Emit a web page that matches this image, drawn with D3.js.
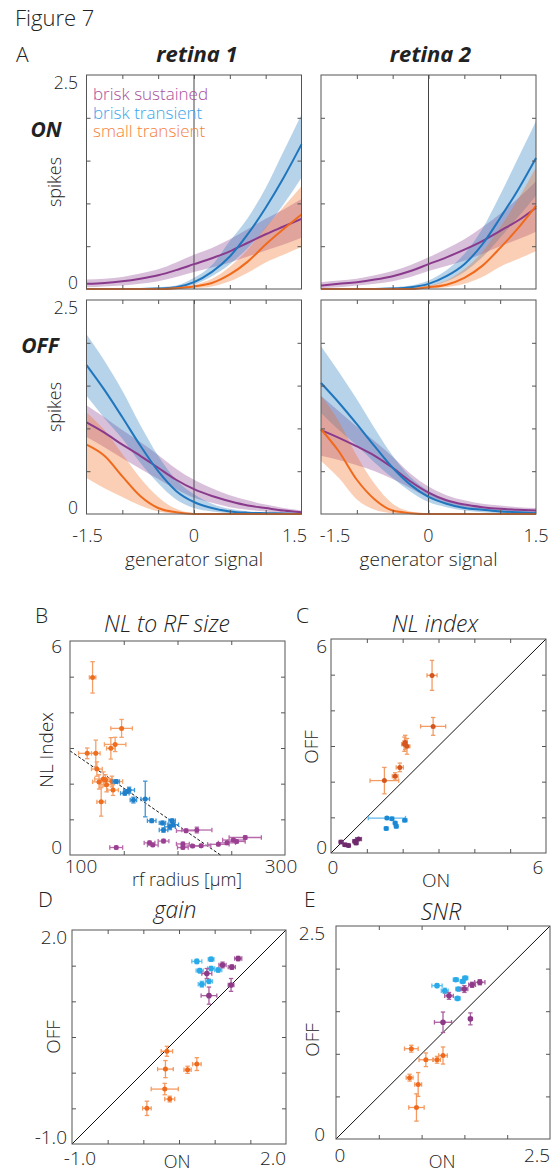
<!DOCTYPE html>
<html>
<head>
<meta charset="utf-8">
<script src="https://cdn.jsdelivr.net/npm/d3@7"></script>
<style>
  body { margin: 0; background: #fff; }
  svg { font-family: "Open Sans", "Liberation Sans", sans-serif; font-weight: 300; }
  text { fill: #222; }
</style>
</head>
<body>
<div id="root"></div>
<script>
// ---- panel A: fitted nonlinearities (lo / mid / hi band) ----
var genX = [-1.5, -1.25, -1, -0.75, -0.5, -0.25, 0, 0.25, 0.5, 0.75, 1, 1.25, 1.5];

var r1OnBS = { mid: [0.06,0.07,0.09,0.12,0.16,0.22,0.29,0.36,0.44,0.54,0.64,0.73,0.82],
               lo:  [0.02,0.03,0.04,0.06,0.09,0.14,0.2,0.25,0.31,0.38,0.45,0.52,0.6],
               hi:  [0.11,0.12,0.14,0.18,0.23,0.31,0.4,0.48,0.58,0.7,0.82,0.93,1.05] };
var r1OnBT = { mid: [0,0,0,0,0.005,0.02,0.08,0.2,0.38,0.64,0.95,1.3,1.69],
               lo:  [0,0,0,0,0,0.01,0.05,0.15,0.29,0.48,0.71,0.99,1.3],
               hi:  [0,0,0,0.01,0.02,0.04,0.13,0.28,0.56,0.83,1.18,1.61,2.04] };
var r1OnST = { mid: [0,0,0,0,0,0.01,0.03,0.07,0.17,0.32,0.52,0.7,0.87],
               lo:  [0,0,0,0,0,0,0.01,0.03,0.09,0.19,0.31,0.4,0.49],
               hi:  [0,0,0,0,0.01,0.02,0.05,0.12,0.26,0.46,0.72,0.96,1.2] };

var r2OnBS = { mid: [0.04,0.06,0.08,0.11,0.15,0.21,0.29,0.37,0.46,0.56,0.68,0.8,0.95],
               lo:  [0.01,0.02,0.04,0.06,0.09,0.14,0.21,0.27,0.33,0.41,0.5,0.58,0.67],
               hi:  [0.08,0.1,0.12,0.16,0.21,0.28,0.37,0.47,0.58,0.72,0.88,1.06,1.26] };
var r2OnBT = { mid: [0,0,0,0,0.005,0.02,0.06,0.15,0.29,0.52,0.83,1.16,1.53],
               lo:  [0,0,0,0,0,0.01,0.03,0.09,0.2,0.37,0.6,0.84,1.09],
               hi:  [0,0,0,0.01,0.02,0.04,0.1,0.22,0.41,0.7,1.1,1.53,1.96] };
var r2OnST = { mid: [0,0,0,0,0,0,0.02,0.05,0.13,0.27,0.48,0.71,0.97],
               lo:  [0,0,0,0,0,0,0.005,0.02,0.06,0.14,0.26,0.35,0.44],
               hi:  [0,0,0,0,0,0.01,0.04,0.1,0.23,0.43,0.72,1.05,1.42] };

var r1OffBS = { mid: [1.07,0.95,0.81,0.68,0.54,0.4,0.29,0.21,0.15,0.1,0.07,0.04,0.02],
                lo:  [0.9,0.78,0.65,0.53,0.41,0.29,0.19,0.13,0.08,0.05,0.03,0.01,0],
                hi:  [1.27,1.13,0.98,0.84,0.69,0.53,0.4,0.3,0.22,0.16,0.11,0.07,0.04] };
var r1OffBT = { mid: [1.74,1.45,1.13,0.8,0.5,0.27,0.14,0.07,0.03,0.015,0.01,0.005,0],
                lo:  [1.38,1.12,0.88,0.6,0.36,0.17,0.07,0.03,0.01,0.005,0,0,0],
                hi:  [2.1,1.79,1.44,1.04,0.68,0.4,0.23,0.12,0.06,0.03,0.02,0.01,0.01] };
var r1OffST = { mid: [0.81,0.68,0.44,0.21,0.07,0.02,0,0,0,0,0,0,0],
                lo:  [0.42,0.3,0.2,0.1,0.03,0.005,0,0,0,0,0,0,0],
                hi:  [1.19,0.98,0.7,0.42,0.2,0.06,0.01,0,0,0,0,0,0] };

var r2OffBS = { mid: [0.98,0.89,0.79,0.68,0.54,0.38,0.25,0.16,0.11,0.08,0.06,0.05,0.04],
                lo:  [0.68,0.63,0.57,0.5,0.41,0.3,0.19,0.12,0.08,0.05,0.03,0.02,0.01],
                hi:  [1.38,1.2,1.02,0.85,0.67,0.47,0.32,0.22,0.16,0.12,0.1,0.08,0.07] };
var r2OffBT = { mid: [1.53,1.3,1.05,0.79,0.54,0.34,0.2,0.12,0.07,0.05,0.03,0.02,0.01],
                lo:  [1.18,0.98,0.8,0.6,0.42,0.26,0.14,0.08,0.04,0.02,0.01,0,0],
                hi:  [1.96,1.66,1.34,1,0.68,0.43,0.27,0.17,0.1,0.07,0.05,0.04,0.03] };
var r2OffST = { mid: [0.99,0.73,0.4,0.17,0.04,0.01,0,0,0,0,0,0,0],
                lo:  [0.62,0.42,0.17,0.05,0.01,0,0,0,0,0,0,0,0],
                hi:  [1.38,1.08,0.68,0.35,0.12,0.03,0.01,0,0,0,0,0,0] };

var legendNames = ["brisk sustained", "brisk transient", "small transient"];

// ---- scatter panels: [x, y, xerr, yerr] ----
var rfST = [[121,4.98,3,0.44],[148,3.55,10,0.25],[142,3.1,10,0.2],[138,2.99,4,0.3],
            [124,2.85,4,0.37],[116,2.85,8,0.15],[125,2.41,5,0.2],[131,2.13,8,0.2],
            [139,2.06,10,0.15],[134,1.97,6,0.2],[140,1.82,5,0.15],[129,1.49,4,0.4],
            [127,2.05,6,0.2],[133,2.1,5,0.15]];
var rfBT = [[143,2.06,3,0.05],[151,1.73,4,0.05],[155,1.82,5,0.08],[159,1.54,3,0.08],
            [170,1.57,4,0.5],[176,0.96,4,0.05],[186,0.9,3,0.05],[187,0.7,4,0.06],
            [193,0.79,5,0.08],[195,0.96,3,0.05],[196,0.85,5,0.05],[153,1.78,3,0.05]];
var rfBS = [[143,0.21,6,0.04],[174,0.34,5,0.05],[177,0.28,5,0.04],[187,0.39,5,0.05],
            [205,0.31,6,0.05],[205,0.21,5,0.04],[214,0.25,8,0.04],[222,0.26,9,0.04],
            [218,0.7,14,0.08],[208,0.68,9,0.05],[238,0.3,10,0.04],[246,0.34,8,0.05],
            [252,0.42,10,0.05],[263,0.49,15,0.05],[255,0.38,8,0.04]];
var rfFitX = [100, 240];
var rfFitY = [2.92, 0];

var nlST = [[2.82,4.98,0.14,0.42],[2.85,3.55,0.35,0.25],[2.07,3.1,0.06,0.2],[2.12,2.99,0.08,0.22],
            [2.05,3.05,0.08,0.2],[1.92,2.4,0.1,0.12],[1.79,2.15,0.08,0.1],[1.49,2.03,0.4,0.37]];
var nlBT = [[1.56,0.98,0.52,0.04],[1.7,0.96,0.05,0.04],[1.54,0.69,0.05,0.04],[1.79,0.84,0.05,0.04],
            [1.82,0.75,0.05,0.05],[2.06,0.92,0.06,0.04]];
var nlBS = [[0.28,0.31,0.05,0.03],[0.39,0.23,0.05,0.03],[0.49,0.21,0.04,0.03],[0.67,0.33,0.06,0.04],
            [0.77,0.39,0.08,0.04],[0.7,0.28,0.05,0.04]];

var gainBT = [[0.75,1.56,0.07,0.03],[0.95,1.59,0.04,0.03],[0.79,1.43,0.05,0.03],[0.95,1.46,0.05,0.03],
              [1.05,1.44,0.05,0.03],[0.82,1.24,0.05,0.04],[0.92,1.28,0.05,0.03]];
var gainBS = [[1.33,1.6,0.05,0.03],[1.11,1.51,0.05,0.04],[1.24,1.48,0.05,0.03],[0.89,1.39,0.07,0.07],
              [1.23,1.23,0.04,0.09],[0.92,1.08,0.11,0.12]];
var gainST = [[0.33,0.3,0.08,0.07],[0.31,0.05,0.11,0.12],[0.75,0.12,0.06,0.09],[0.62,0.04,0.05,0.05],
              [0.3,-0.23,0.19,0.08],[0.37,-0.37,0.07,0.04],[0.05,-0.5,0.06,0.1]];

var snrBT = [[1.18,1.8,0.06,0.02],[1.27,1.74,0.04,0.03],[1.4,1.87,0.03,0.02],[1.48,1.85,0.03,0.02],
             [1.51,1.89,0.03,0.02],[1.43,1.76,0.03,0.02],[1.42,1.65,0.03,0.02]];
var snrBS = [[1.68,1.84,0.06,0.03],[1.59,1.81,0.04,0.03],[1.5,1.76,0.04,0.04],[1.32,1.68,0.05,0.04],
             [1.25,1.37,0.1,0.12],[1.57,1.41,0.02,0.07]];
var snrST = [[0.88,1.06,0.08,0.04],[1.05,0.93,0.08,0.08],[1.18,0.93,0.04,0.04],[1.25,0.98,0.05,0.1],
             [0.86,0.72,0.04,0.04],[0.96,0.64,0.04,0.14],[0.94,0.37,0.09,0.16]];

var colBS = "#8a3a8c", colBT = "#1f76bd", colST = "#f06a1c";

var svg = d3.select("#root").append("svg")
    .attr("width", 555)
    .attr("height", 1174);

function txt(x, y, s, size, anchor, extra) {
    var t = svg.append("text")
        .attr("x", x).attr("y", y)
        .attr("font-size", size)
        .attr("text-anchor", anchor || "start")
        .text(s);
    if (extra) extra(t);
    return t;
}

// a box with inward ticks on all four sides
function panel(left, top, w, h, xDom, yDom, xTicks, yTicks) {
    var x = d3.scaleLinear().domain(xDom).range([left, left + w]);
    var y = d3.scaleLinear().domain(yDom).range([top + h, top]);
    var g = svg.append("g");
    var axes = [
        [d3.axisBottom(x).tickValues(xTicks), "translate(0," + (top + h) + ")"],
        [d3.axisTop(x).tickValues(xTicks), "translate(0," + top + ")"],
        [d3.axisLeft(y).tickValues(yTicks), "translate(" + left + ",0)"],
        [d3.axisRight(y).tickValues(yTicks), "translate(" + (left + w) + ",0)"]
    ];
    var frame = svg.append("g");
    axes.forEach(function (a) {
        var ax = frame.append("g")
            .attr("transform", a[1])
            .call(a[0].tickSize(-4).tickFormat(""));
        ax.select(".domain").remove();
        ax.selectAll("line").attr("stroke", "#555");
    });
    frame.append("rect")
        .attr("x", left).attr("y", top)
        .attr("width", w).attr("height", h)
        .attr("fill", "none")
        .attr("stroke", "#555")
        .attr("stroke-width", 1);
    return { x: x, y: y, g: g, frame: frame };
}

// ---- panel A ----
function curves(left, top, bs, bt, st) {
    var p = panel(left, top, 215, 214, [-1.5, 1.5], [0, 2.5],
        [-1, -0.5, 0, 0.5, 1], [0.5, 1, 1.5, 2]);
    var sets = [[bs, colBS], [bt, colBT], [st, colST]];
    sets.forEach(function (s) {
        var area = d3.area()
            .x(function (d, i) { return p.x(genX[i]); })
            .y0(function (d, i) { return p.y(s[0].lo[i]); })
            .y1(function (d, i) { return p.y(s[0].hi[i]); })
            .curve(d3.curveMonotoneX);
        p.g.append("path")
            .attr("d", area(genX))
            .attr("fill", s[1])
            .attr("fill-opacity", 0.32);
    });
    p.g.append("line")
        .attr("x1", p.x(0)).attr("x2", p.x(0))
        .attr("y1", p.y(0)).attr("y2", p.y(2.5))
        .attr("stroke", "#444").attr("stroke-width", 1);
    sets.forEach(function (s) {
        var line = d3.line()
            .x(function (d, i) { return p.x(genX[i]); })
            .y(function (d, i) { return p.y(s[0].mid[i]); })
            .curve(d3.curveMonotoneX);
        p.g.append("path")
            .attr("d", line(genX))
            .attr("fill", "none")
            .attr("stroke", s[1])
            .attr("stroke-width", 2);
    });
    return p;
}

var pOn1 = curves(86.5, 75, r1OnBS, r1OnBT, r1OnST);
var pOn2 = curves(321, 75, r2OnBS, r2OnBT, r2OnST);
var pOff1 = curves(86.5, 300, r1OffBS, r1OffBT, r1OffST);
var pOff2 = curves(321, 300, r2OffBS, r2OffBT, r2OffST);

var legendCols = ["#a8509c", "#3aa6ec", "#f5823a"];
legendNames.forEach(function (n, i) {
    txt(93, 100 + i * 18.7, n, 17).style("fill", legendCols[i]);
});

txt(15, 26, "Figure 7", 22);
txt(16, 62, "A", 21);
function bi(t) { t.attr("font-weight", 700).attr("font-style", "italic"); }
txt(pOn1.x(0) + 3, 62, "retina 1", 22, "middle", bi);
txt(pOn2.x(0) + 2, 62, "retina 2", 22, "middle", bi);
txt(46, 137, "ON", 21, "middle", bi);
txt(40, 353, "OFF", 21, "middle", bi);

[pOn1, pOff1].forEach(function (p) {
    txt(78, p.y(2.5) + 14, "2.5", 17.5, "end");
    txt(78, p.y(0), "0", 17.5, "end");
    txt(61, (p.y(0) + p.y(2.5)) / 2, "spikes", 18, "middle", function (t) {
        t.attr("transform", "rotate(-90," + 61 + "," + (p.y(0) + p.y(2.5)) / 2 + ")");
    });
});
[[pOff1, 1, -7], [pOff2, 14, 0]].forEach(function (a) {
    var p = a[0];
    txt(p.x(-1.5) + a[1], 542, "-1.5", 18, "middle");
    txt(p.x(0), 542, "0", 18, "middle");
    txt(p.x(1.5) + a[2], 542, "1.5", 18, "middle");
    txt(p.x(0), 566, "generator signal", 19, "middle");
});

// ---- scatter helper ----
function scatter(p, data, col, errCol, r) {
    var g = p.g.append("g");
    var cap = 2.2;
    data.forEach(function (d) {
        var cx = p.x(d[0]), cy = p.y(d[1]);
        var x0 = p.x(d[0] - d[2]), x1 = p.x(d[0] + d[2]);
        var y0 = p.y(d[1] - d[3]), y1 = p.y(d[1] + d[3]);
        var segs = [[x0, cy, x1, cy], [cx, y0, cx, y1],
                    [x0, cy - cap, x0, cy + cap], [x1, cy - cap, x1, cy + cap],
                    [cx - cap, y0, cx + cap, y0], [cx - cap, y1, cx + cap, y1]];
        g.selectAll(null).data(segs).enter().append("line")
            .attr("x1", function (s) { return s[0]; })
            .attr("y1", function (s) { return s[1]; })
            .attr("x2", function (s) { return s[2]; })
            .attr("y2", function (s) { return s[3]; })
            .attr("stroke", errCol)
            .attr("stroke-width", 1.3);
    });
    g.selectAll("circle").data(data).enter().append("circle")
        .attr("cx", function (d) { return p.x(d[0]); })
        .attr("cy", function (d) { return p.y(d[1]); })
        .attr("r", r || 2.5)
        .attr("fill", col);
}

function it(t) { t.attr("font-style", "italic"); }
function rotLabel(x, y, s) {
    txt(x, y, s, 19, "middle", function (t) {
        t.attr("transform", "rotate(-90," + x + "," + y + ")");
    });
}

// ---- B ----
var pB = panel(70, 641, 215, 214, [100, 300], [0, 6], [150, 200, 250], [1, 2, 3, 4, 5]);
pB.g.append("path")
    .attr("d", d3.line().x(function (d) { return pB.x(d); }).y(function (d, i) { return pB.y(rfFitY[i]); })(rfFitX))
    .attr("stroke", "#111").attr("stroke-width", 1).attr("stroke-dasharray", "3,2").attr("fill", "none");
scatter(pB, rfBS, "#9a3f92", "#b66aab");
scatter(pB, rfST, "#ef6d1e", "#f4a068");
scatter(pB, rfBT, "#1f80c9", "#3d94d6");
txt(35, 623, "B", 21);
txt(167, 632, "NL to RF size", 23, "middle", it);
txt(62, 653, "6", 19, "end");
txt(62, 854, "0", 19, "end");
txt(81, 873, "100", 19, "middle");
txt(281, 873, "300", 19, "middle");
txt(187, 886, "rf radius [µm]", 18, "middle");
rotLabel(53, 750, "NL Index");

// ---- C ----
var pC = panel(331, 639, 215, 214, [0, 6], [0, 6], [1, 2, 3, 4, 5], [1, 2, 3, 4, 5]);
pC.g.append("line")
    .attr("x1", pC.x(0)).attr("y1", pC.y(0)).attr("x2", pC.x(6)).attr("y2", pC.y(6))
    .attr("stroke", "#111").attr("stroke-width", 1);
scatter(pC, nlBS, "#6e2a6c", "#8c4a88");
scatter(pC, nlBT, "#1a88d2", "#5cb8ee");
scatter(pC, nlST, "#d4561e", "#f29c64");
txt(296, 623, "C", 21);
txt(435, 632, "NL index", 23, "middle", it);
txt(327, 653, "6", 19, "end");
txt(327, 854, "0", 19, "end");
txt(333, 874, "0", 19, "middle");
txt(538, 874, "6", 19, "middle");
txt(436, 887, "ON", 19, "middle");
rotLabel(318, 747, "OFF");

// ---- D ----
var pD = panel(72, 930, 214, 214, [-1, 2], [-1, 2], [-0.5, 0, 0.5, 1, 1.5], [-0.5, 0, 0.5, 1, 1.5]);
pD.g.append("line")
    .attr("x1", pD.x(-1)).attr("y1", pD.y(-1)).attr("x2", pD.x(2)).attr("y2", pD.y(2))
    .attr("stroke", "#111").attr("stroke-width", 1);
scatter(pD, gainBT, "#2aaae8", "#5cc0f0", 2.8);
scatter(pD, gainBS, "#8e3a88", "#a8609f", 2.8);
scatter(pD, gainST, "#f06a1e", "#f49a60");
txt(38, 907, "D", 21);
txt(175, 918, "gain", 23, "middle", it);
txt(67, 944, "2.0", 19, "end");
txt(67, 1144, "-1.0", 19, "end");
txt(80, 1165, "-1.0", 19, "middle");
txt(273, 1165, "2.0", 19, "middle");
txt(177, 1168, "ON", 18, "middle");
rotLabel(60, 1037, "OFF");

// ---- E ----
var pE = panel(336, 926, 214, 213, [0, 2.5], [0, 2.5], [0.5, 1, 1.5, 2], [0.5, 1, 1.5, 2]);
pE.g.append("line")
    .attr("x1", pE.x(0)).attr("y1", pE.y(0)).attr("x2", pE.x(2.5)).attr("y2", pE.y(2.5))
    .attr("stroke", "#111").attr("stroke-width", 1);
scatter(pE, snrBT, "#2aaae8", "#5cc0f0", 2.8);
scatter(pE, snrBS, "#8e3a88", "#a8609f", 2.8);
scatter(pE, snrST, "#f06a1e", "#f49a60");
txt(304, 907, "E", 21);
txt(441, 920, "SNR", 23, "middle", it);
txt(325, 940, "2.5", 19, "end");
txt(325, 1141, "0", 19, "end");
txt(340, 1162, "0", 19, "middle");
txt(537, 1162, "2.5", 19, "middle");
txt(442, 1168, "ON", 18, "middle");
rotLabel(319, 1040, "OFF");
</script>
</body>
</html>
